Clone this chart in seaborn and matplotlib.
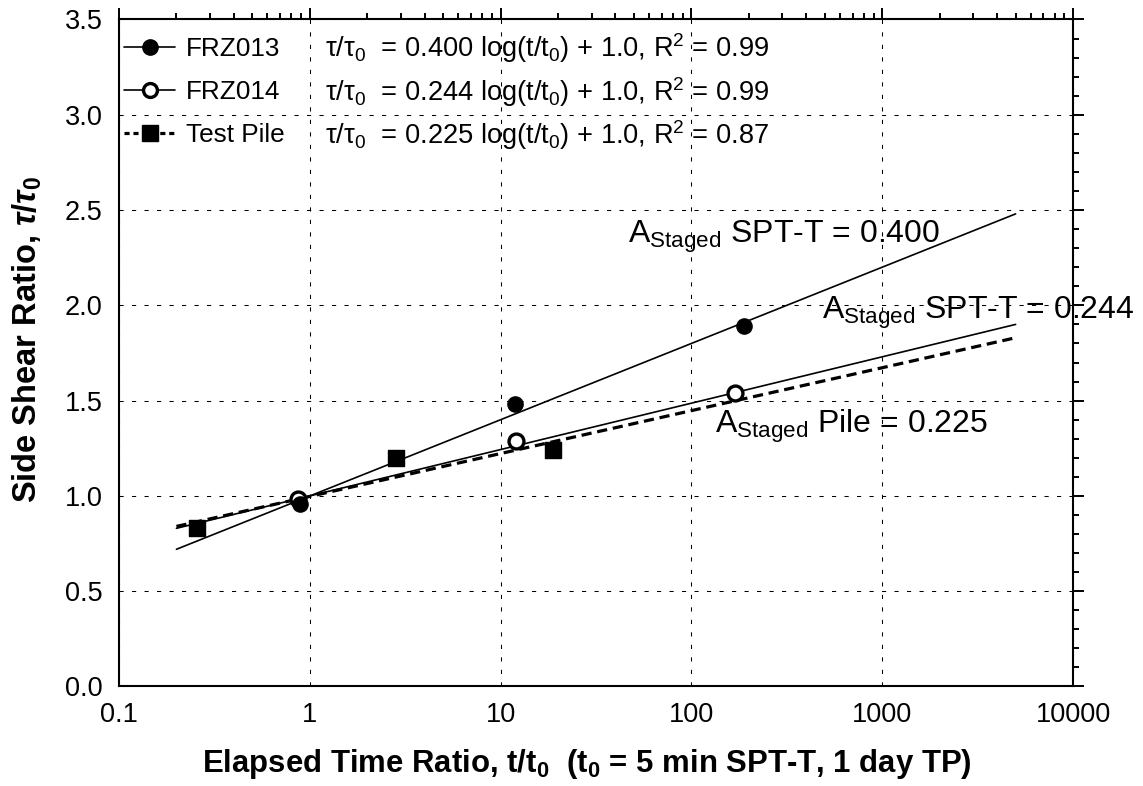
import numpy as np
import pandas as pd
import matplotlib
matplotlib.use("Agg")
import matplotlib.pyplot as plt
import seaborn as sns
from matplotlib.lines import Line2D
from matplotlib.ticker import MultipleLocator, LogLocator, FixedLocator, FixedFormatter, NullFormatter

# ---------------- data ----------------
frz013_t = [0.89, 11.9, 189]
frz013_r = [0.96, 1.48, 1.89]
frz014_t = [0.87, 12.0, 169]
frz014_r = [0.985, 1.29, 1.54]
pile_t = [0.257, 2.82, 18.9]
pile_r = [0.83, 1.20, 1.24]

fit_t = [0.2, 5000]
fit013_r = [0.72, 2.48]
fit014_r = [0.83, 1.90]
fitpile_r = [0.84, 1.83]

series_names = ["FRZ013", "FRZ014", "Test Pile"]
equations = [
    "τ/τ$_0$  = 0.400 log(t/t$_0$) + 1.0, R$^2$ = 0.99",
    "τ/τ$_0$  = 0.244 log(t/t$_0$) + 1.0, R$^2$ = 0.99",
    "τ/τ$_0$  = 0.225 log(t/t$_0$) + 1.0, R$^2$ = 0.87",
]
annot_texts = [
    r"A$_{\mathrm{Staged}}$ SPT-T = 0.400",
    r"A$_{\mathrm{Staged}}$ SPT-T = 0.244",
    r"A$_{\mathrm{Staged}}$ Pile = 0.225",
]
x_ticks = [0.1, 1, 10, 100, 1000, 10000]
x_tick_labels = ["0.1", "1", "10", "100", "1000", "10000"]
y_ticks = [0.0, 0.5, 1.0, 1.5, 2.0, 2.5, 3.0, 3.5]
y_tick_labels = ["0.0", "0.5", "1.0", "1.5", "2.0", "2.5", "3.0", "3.5"]
x_label = r"Elapsed Time Ratio, t/t$_\mathbf{0}$  (t$_\mathbf{0}$ = 5 min SPT-T, 1 day TP)"
y_label = r"Side Shear Ratio, $\tau$/$\tau_\mathbf{0}$"

# ---------------- style ----------------
sns.set_style("white")
plt.rcParams["font.family"] = ["Liberation Sans", "DejaVu Sans"]
plt.rcParams["text.color"] = "black"
plt.rcParams["axes.labelcolor"] = "black"
plt.rcParams["xtick.color"] = "black"
plt.rcParams["ytick.color"] = "black"
plt.rcParams["mathtext.fontset"] = "custom"
plt.rcParams["mathtext.rm"] = "Liberation Sans"
plt.rcParams["mathtext.it"] = "Liberation Sans:italic:bold"
plt.rcParams["mathtext.bf"] = "Liberation Sans:bold"
plt.rcParams["mathtext.sf"] = "Liberation Sans"

fig = plt.figure(figsize=(11.43, 7.86), dpi=100)
ax = fig.add_axes([0.1041, 0.1266, 0.8347, 0.8486])

# fit lines
sns.lineplot(x=fit_t, y=fit013_r, ax=ax, color="black", linewidth=1.2, estimator=None, sort=False, zorder=3)
sns.lineplot(x=fit_t, y=fit014_r, ax=ax, color="black", linewidth=1.2, estimator=None, sort=False, zorder=3)
sns.lineplot(x=fit_t, y=fitpile_r, ax=ax, color="black", linewidth=2.3, linestyle=(0, (3.2, 1.8)),
             estimator=None, sort=False, zorder=3)

# data points
sns.scatterplot(x=frz014_t, y=frz014_r, ax=ax, marker="o", s=115, color="white",
                edgecolor="black", linewidth=2.4, zorder=4)
sns.scatterplot(x=frz013_t, y=frz013_r, ax=ax, marker="o", s=120, color="black",
                edgecolor="black", linewidth=1, zorder=5)
sns.scatterplot(x=pile_t, y=pile_r, ax=ax, marker="s", s=140, color="black",
                edgecolor="black", linewidth=1, zorder=5)

# axes
ax.set_xscale("log")
ax.set_xlim(0.1, 10000)
ax.set_ylim(0, 3.5)
ax.xaxis.set_major_locator(FixedLocator(x_ticks))
ax.xaxis.set_major_formatter(FixedFormatter(x_tick_labels))
ax.xaxis.set_minor_locator(LogLocator(base=10, subs=np.arange(2, 10), numticks=20))
ax.xaxis.set_minor_formatter(NullFormatter())
ax.yaxis.set_major_locator(FixedLocator(y_ticks))
ax.yaxis.set_major_formatter(FixedFormatter(y_tick_labels))
ax.yaxis.set_minor_locator(MultipleLocator(0.1))

for sp in ax.spines.values():
    sp.set_visible(True)
    sp.set_linewidth(1.5)
    sp.set_color("black")

ax.tick_params(axis="both", which="both", direction="out", top=True, right=True,
               labeltop=False, labelright=False, color="black", width=1.4)
ax.tick_params(axis="both", which="major", length=8, labelsize=19.5)
ax.tick_params(axis="both", which="minor", length=4.5)
ax.tick_params(axis="x", which="major", pad=3)
ax.tick_params(axis="y", which="major", pad=4)

ax.grid(True, which="major", color="black", linewidth=0.75, linestyle=(0, (4, 8)))
ax.set_axisbelow(True)

ax.set_xlabel(x_label, fontsize=22.4, fontweight="bold")
ax.xaxis.set_label_coords(0.49, -0.09)
ax.set_ylabel(y_label, fontsize=23.5, fontweight="bold")
ax.yaxis.set_label_coords(-0.079, 0.52)

# legend
handles = [
    Line2D([], [], color="black", lw=1.2, marker="o", ms=11, mfc="black", mec="black"),
    Line2D([], [], color="black", lw=1.2, marker="o", ms=10, mfc="white", mec="black", mew=2.4),
    Line2D([], [], color="black", lw=2.3, ls=(0, (1.6, 1.2)), marker="s", ms=11, mfc="black", mec="black"),
]
leg = ax.legend(handles, series_names, loc="upper left", bbox_to_anchor=(0.0, 0.982),
                frameon=False, fontsize=18.8, handlelength=1.95, handletextpad=0.42,
                labelspacing=0.74, borderpad=0.0, borderaxespad=0.2)

eq_y = [3.305, 3.074, 2.847]
for txt, yy in zip(equations, eq_y):
    ax.text(1.20, yy, txt, fontsize=19.6, ha="left", va="baseline", zorder=6)

annot_pos = [(46.5, 2.33), (482, 1.930), (133, 1.329)]
for txt, (xx, yy) in zip(annot_texts, annot_pos):
    ax.text(xx, yy, txt, fontsize=23, ha="left", va="baseline", zorder=6, clip_on=False)

fig.savefig("out.png", dpi=100)
